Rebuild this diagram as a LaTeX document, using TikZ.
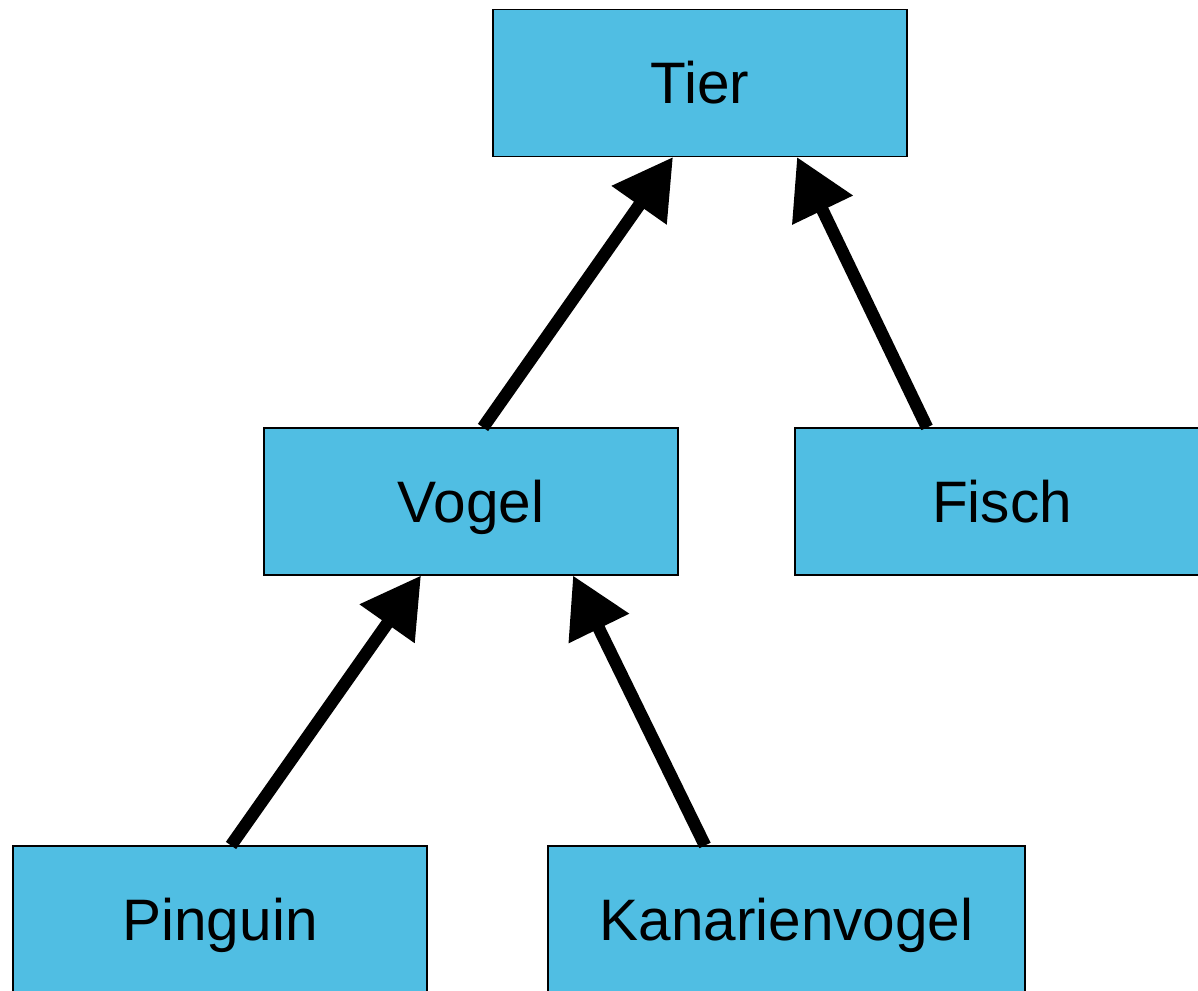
\documentclass[tikz,border=0pt]{standalone}
\usepackage{fontspec}
\setmainfont{Liberation Sans}
\usetikzlibrary{arrows.meta}
\definecolor{boxblue}{RGB}{80,190,227}
\begin{document}
\begin{tikzpicture}[
    font=\fontsize{33.3}{40}\selectfont,
    klasse/.style={draw=black, line width=0.6pt, fill=boxblue, inner sep=0pt,
      minimum height=\H cm, text height=23.8pt, text depth=0pt},
    erbt/.style={line width=0.25cm, -{Triangle[length=1.18cm, width=1.28cm]}}
  ]
  % --- sizes (cm)
  \def\B{8.28}    % box width
  \def\BK{9.54}   % Kanarienvogel width
  \def\H{2.94}    % box height

  \useasboundingbox (0,0) rectangle (23.96,19.8);

  %---------------------------------------
  % classes
  \node[klasse, minimum width=\B cm]  (tier)    at (14.00,18.14) {Tier};
  \node[klasse, minimum width=\B cm]  (vogel)   at (9.42,9.77)   {Vogel};
  \node[klasse, minimum width=\B cm]  (fisch)   at (20.04,9.77)  {Fisch};
  \node[klasse, minimum width=\B cm]  (pinguin) at (4.40,1.41)   {Pinguin};
  \node[klasse, minimum width=\BK cm] (kanarie) at (15.73,1.41)  {Kanarienvogel};

  %---------------------------------------
  % inheritance arrows
  \draw[erbt] ([xshift=0.24cm]vogel.north)    -- ([xshift=-0.54cm]tier.south);
  \draw[erbt] ([xshift=-1.50cm]fisch.north)   -- ([xshift=1.94cm]tier.south);
  \draw[erbt] ([xshift=0.22cm]pinguin.north)  -- ([xshift=-1.00cm]vogel.south);
  \draw[erbt] ([xshift=-1.63cm]kanarie.north) -- ([xshift=2.04cm]vogel.south);
\end{tikzpicture}
\end{document}
